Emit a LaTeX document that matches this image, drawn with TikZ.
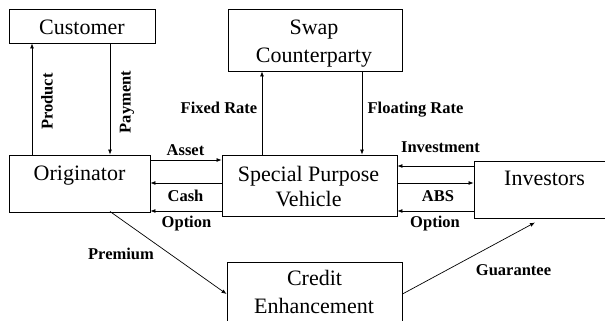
\documentclass[tikz,border=0pt]{standalone}
\usepackage{fontspec}
\setmainfont{Liberation Serif}
\usetikzlibrary{arrows.meta}

\tikzset{
  box/.style={draw, line width=0.9pt, inner sep=0pt, minimum width=#1},
  boxtext/.style={anchor=base, inner sep=0pt, font=\fontsize{22}{26}\selectfont},
  lbl/.style={anchor=base, inner sep=0pt, font=\fontsize{16.5}{20}\selectfont\bfseries},
  vlbl/.style={anchor=center, inner sep=0pt, rotate=90, font=\fontsize{16.5}{20}\selectfont\bfseries},
  flow/.style={line width=0.7pt, -{Latex[length=5pt,width=4pt]}},
}

\begin{document}
\begin{tikzpicture}[x=1pt, y=-1pt]
\useasboundingbox (0,0) rectangle (605,321);
\clip (0,0) rectangle (605,321);

% boxes
\node[box=146pt, minimum height=34pt] (cust) at (82,26) {};
\node[box=174pt, minimum height=62pt] (swap) at (315,40) {};
\node[box=141pt, minimum height=57pt] (orig) at (79.5,183.5) {};
\node[box=175pt, minimum height=61pt] (spv)  at (309.5,185.5) {};
\node[box=140pt, minimum height=57pt] (inv)  at (544,189.5) {};
\node[box=175pt, minimum height=74pt] (ce)   at (314.5,299) {};

% box texts
\node[boxtext] (custT)  at (82,35)    {Customer};
\node[boxtext] (swapT1) at (314,35)   {Swap};
\node[boxtext] (swapT2) at (314,63)   {Counterparty};
\node[boxtext] (origT)  at (79.5,180.5) {Originator};
\node[boxtext] (spvT1)  at (308.5,181) {Special Purpose};
\node[boxtext] (spvT2)  at (308.5,206) {Vehicle};
\node[boxtext] (invT)   at (544.5,185.5) {Investors};
\node[boxtext] (ceT1)   at (314.5,285.5) {Credit};
\node[boxtext] (ceT2)   at (314,313)   {Enhancement};

% guide coordinates for the connectors
\coordinate (c1) at (32,0);
\coordinate (c2) at (110,0);
\coordinate (c3) at (262,0);
\coordinate (c4) at (362,0);
\coordinate (r1) at (0,160);
\coordinate (r2) at (0,183);
\coordinate (r3) at (0,211);
\coordinate (r4) at (0,166);
\coordinate (r5) at (0,294);
\coordinate (pstart) at (110,211.5);
\coordinate (gtip) at (535,222.5);

% connectors
\draw[flow] (orig.north -| c1) -- (cust.south -| c1);
\draw[flow] (cust.south -| c2) -- (orig.north -| c2);
\draw[flow] (spv.north -| c3) -- (swap.south -| c3);
\draw[flow] (swap.south -| c4) -- (spv.north -| c4);
\draw[flow] (orig.east |- r1) -- (spv.west |- r1);
\draw[flow] (spv.west |- r2) -- (orig.east |- r2);
\draw[flow] (spv.west |- r3) -- (orig.east |- r3);
\draw[flow] (inv.west |- r4) -- (spv.east |- r4);
\draw[flow] (spv.east |- r2) -- (inv.west |- r2);
\draw[flow] (inv.west |- r3) -- (spv.east |- r3);
\draw[flow] (pstart) -- (ce.west |- r5);
\draw[flow] (ce.east |- r5) -- (gtip);

% flow labels
\node[vlbl] (lProduct) at (47,101.5) {Product};
\node[vlbl] (lPayment) at (127,102) {Payment};
\node[lbl] (lFixed)  at (219,113)   {Fixed Rate};
\node[lbl] (lFloat)  at (415.5,113) {Floating Rate};
\node[lbl] (lAsset)  at (185.5,155.5) {Asset};
\node[lbl] (lCash)   at (185.5,201) {Cash};
\node[lbl] (lOptL)   at (186.5,227) {Option};
\node[lbl] (lInvest) at (440.5,152.5) {Investment};
\node[lbl] (lABS)    at (438,201)   {ABS};
\node[lbl] (lOptR)   at (435,227)   {Option};
\node[lbl] (lPrem)   at (121,259)   {Premium};
\node[lbl] (lGuar)   at (513.5,275) {Guarantee};
\end{tikzpicture}
\end{document}
